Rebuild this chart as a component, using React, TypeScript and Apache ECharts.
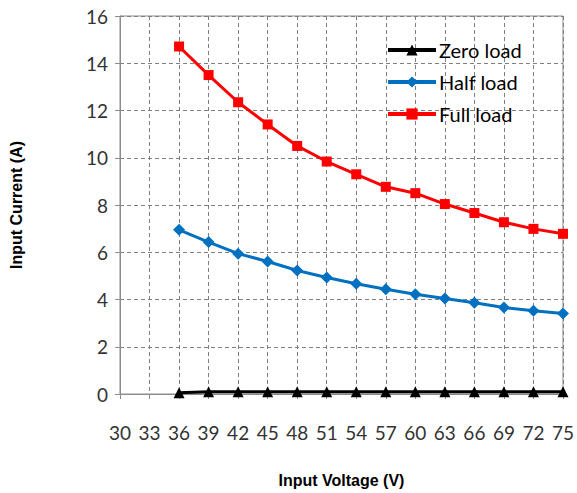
import React, { useEffect, useRef } from "react";
import * as echarts from "echarts";

const voltages = [36, 39, 42, 45, 48, 51, 54, 57, 60, 63, 66, 69, 72, 75];
const zeroLoad = [0.05, 0.1, 0.1, 0.1, 0.1, 0.1, 0.1, 0.1, 0.1, 0.1, 0.1, 0.1, 0.1, 0.1];
const halfLoad = [6.95, 6.43, 5.94, 5.61, 5.23, 4.93, 4.67, 4.43, 4.22, 4.04, 3.86, 3.66, 3.52, 3.41];
const fullLoad = [14.71, 13.5, 12.35, 11.41, 10.5, 9.84, 9.3, 8.77, 8.5, 8.04, 7.66, 7.27, 6.99, 6.78];
const seriesNames = ["Zero load", "Half load", "Full load"];

const labelFont = 'Lato, "Open Sans", sans-serif';

export default function App() {
  const ref = useRef<HTMLDivElement>(null);
  useEffect(() => {
    if (!ref.current) return;
    const chart = echarts.init(ref.current, null, { renderer: "svg" });
    const pair = (ys: number[]) => voltages.map((v, i) => [v, ys[i]]);
    chart.setOption({
      animation: false,
      backgroundColor: "#ffffff",
      grid: { left: 120, right: 11, top: 16, bottom: 97, show: true, borderColor: "#8c8c8c", borderWidth: 1 },
      legend: {
        left: 381,
        top: 35,
        orient: "vertical",
        itemGap: 12,
        itemWidth: 48,
        itemHeight: 14,
        lineStyle: { width: 4 },
        textStyle: { fontFamily: labelFont, fontSize: 20, color: "#000", padding: [0, 0, 0, -2] },
        data: seriesNames,
      },
      xAxis: {
        type: "value",
        min: 30,
        max: 75,
        interval: 3,
        name: "Input Voltage (V)",
        nameLocation: "middle",
        nameGap: 78,
        nameTextStyle: { fontFamily: "Arial, Liberation Sans, sans-serif", fontWeight: "bold", fontSize: 16, color: "#000" },
        axisLine: { lineStyle: { color: "#8c8c8c" } },
        axisTick: { show: true, length: 5, lineStyle: { color: "#8c8c8c" } },
        axisLabel: { fontFamily: labelFont, fontSize: 19, color: "#333", margin: 29 },
        splitLine: { show: true, lineStyle: { type: [4, 3], color: "#7f7f7f" } },
      },
      yAxis: {
        type: "value",
        min: 0,
        max: 16,
        interval: 2,
        name: "Input Current (A)",
        nameLocation: "middle",
        nameGap: 96,
        nameTextStyle: { fontFamily: "Arial, Liberation Sans, sans-serif", fontWeight: "bold", fontSize: 16, color: "#000" },
        axisLine: { show: true, lineStyle: { color: "#8c8c8c" } },
        axisTick: { show: true, length: 5, lineStyle: { color: "#8c8c8c" } },
        axisLabel: { fontFamily: labelFont, fontSize: 19, color: "#333", margin: 12 },
        splitLine: { show: true, lineStyle: { type: [4, 3], color: "#7f7f7f" } },
      },
      series: [
        {
          name: seriesNames[0],
          type: "line",
          data: pair(zeroLoad),
          color: "#000000",
          symbol: "triangle",
          symbolSize: 11,
          lineStyle: { width: 3, color: "#000000" },
          z: 3,
        },
        {
          name: seriesNames[1],
          type: "line",
          data: pair(halfLoad),
          color: "#0070C0",
          symbol: "diamond",
          symbolSize: 12,
          lineStyle: { width: 3, color: "#0070C0" },
          z: 4,
        },
        {
          name: seriesNames[2],
          type: "line",
          data: pair(fullLoad),
          color: "#FF0000",
          symbol: "rect",
          symbolSize: 10,
          lineStyle: { width: 3, color: "#FF0000" },
          z: 5,
        },
      ],
    });
    return () => chart.dispose();
  }, []);
  return <div ref={ref} style={{ width: 577, height: 493, position: "absolute", left: 0, top: 0 }} />;
}
